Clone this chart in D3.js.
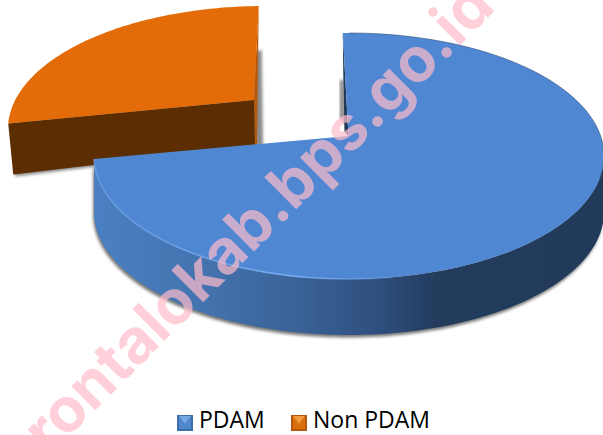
<!DOCTYPE html>
<html><head><meta charset="utf-8">
<script src="https://cdn.jsdelivr.net/npm/d3@7"></script>
<style>html,body{margin:0;padding:0;background:#fff;overflow:hidden}svg{display:block}</style>
</head><body><svg id="c" width="603" height="435"></svg>
<script>
const categories = ["PDAM", "Non PDAM"];
const values = [75, 25];
const topColors = ["#4f87d3", "#e36c09"];
const watermark = "gorontalokab.bps.go.id";

const W = 603, H = 435;
const svg = d3.select("#c");
const defs = svg.append("defs");
const rad = d => d * Math.PI / 180;

const pie = d3.pie().sort(null).startAngle(rad(-1.4)).endAngle(rad(358.6));
const slices = pie(values);

// pie geometry of each exploded slice (ellipse, apex of the wedge, wall depth)
const geom = [
  {cx: 349, cy: 156, rx: 255, ry: 123, apex: [348.5, 136], depth: 56, trim: 0},
  {cx: 265, cy: 129, rx: 257, ry: 123, apex: [254, 100], depth: 46, trim: rad(4)}
];
geom.forEach(g => {
  g.x = d3.scaleLinear().domain([-1, 1]).range([g.cx - g.rx, g.cx + g.rx]);
  g.y = d3.scaleLinear().domain([-1, 1]).range([g.cy + g.ry, g.cy - g.ry]);
});
const pt = (g, a, dy = 0) => [g.x(Math.sin(a)), g.y(Math.cos(a)) + dy];
const arcPts = (g, a0, a1, dy = 0) => d3.range(0, 121).map(i => pt(g, a0 + (a1 - a0) * i / 120, dy));
const line = d3.line();

// gradients & filters
const wallGrad = defs.append("linearGradient").attr("id", "wallBlue")
  .attr("gradientUnits", "userSpaceOnUse").attr("x1", 95).attr("x2", 604).attr("y1", 0).attr("y2", 0);
[[0, "#4a80c2"], [0.2, "#4474b0"], [0.4, "#3a6296"], [0.55, "#2f5080"], [0.67, "#233c5e"], [1, "#213a5a"]]
  .forEach(s => wallGrad.append("stop").attr("offset", s[0]).attr("stop-color", s[1]));

const rimGrad = defs.append("linearGradient").attr("id", "rim")
  .attr("gradientUnits", "userSpaceOnUse").attr("x1", 95).attr("x2", 420).attr("y1", 0).attr("y2", 0);
[[0, "#6b9fe4", 0.7], [0.6, "#78adf0", 1], [1, "#78adf0", 0]]
  .forEach(s => rimGrad.append("stop").attr("offset", s[0]).attr("stop-color", s[1]).attr("stop-opacity", s[2]));

const shadow = defs.append("filter").attr("id", "shadow")
  .attr("x", "-10%").attr("y", "-10%").attr("width", "120%").attr("height", "125%");
shadow.append("feGaussianBlur").attr("stdDeviation", 1.4);
const soft = defs.append("filter").attr("id", "soft")
  .attr("x", "-10%").attr("y", "-10%").attr("width", "120%").attr("height", "120%");
soft.append("feGaussianBlur").attr("stdDeviation", 0.6);

// Orange slice (drawn first)
{
  const s = slices[1], g = geom[1];
  const a0 = s.startAngle + g.trim;
  const left = pt(g, a0), top = pt(g, s.endAngle);
  const leftB = [left[0] + 5, left[1] + 51], apexB = [g.apex[0] + 1, g.apex[1] + g.depth];
  const gs = svg.append("g");
  gs.append("path").attr("d", line([[top[0] + 3, 50], [apexB[0] + 8, apexB[1]], [leftB[0] + 2, leftB[1] + 2], [left[0] + 2, left[1]]]) + "Z")
    .attr("fill", "#8a8a8a").attr("filter", "url(#shadow)");
  gs.append("path").attr("d", line([top, [apexB[0] + 2, apexB[1] - 2], apexB, g.apex]) + "Z").attr("fill", "#b55a0c");
  gs.append("path").attr("d", line([left, g.apex, apexB, leftB]) + "Z").attr("fill", "#5c2d00");
  gs.append("path").attr("d", line([g.apex, ...arcPts(g, a0, s.endAngle)]) + "Z").attr("fill", topColors[1]);
}

// Blue slice
{
  const s = slices[0], g = geom[0];
  const top = pt(g, s.startAngle), left = pt(g, s.endAngle);
  const gs = svg.append("g");
  const wallA0 = rad(88), wallA1 = s.endAngle;
  const outer = arcPts(g, wallA0, wallA1, g.depth);
  const upper = arcPts(g, wallA1, wallA0, 0);
  gs.append("path").attr("d", line(arcPts(g, wallA0, wallA1, g.depth + 2.5).concat(upper)) + "Z")
    .attr("fill", "#777").attr("filter", "url(#shadow)").attr("transform", "translate(-1,0)");
  gs.append("path").attr("d", line([[top[0] - 3, 80], [top[0] - 3, 118], [g.apex[0] - 3, 125], [top[0] + 1, 80]]) + "Z")
    .attr("fill", "#888").attr("filter", "url(#shadow)");
  gs.append("path").attr("d", line(outer.concat(upper)) + "Z").attr("fill", "url(#wallBlue)");
  gs.append("path").attr("d", line([top, g.apex, [g.apex[0] - 4, g.apex[1] - 4], [top[0] + 0.5, top[1] + 40]]) + "Z").attr("fill", "#213a5a");
  gs.append("path").attr("d", line([g.apex, ...arcPts(g, s.startAngle, s.endAngle)]) + "Z").attr("fill", topColors[0]);
  gs.append("path").attr("d", line(arcPts(g, rad(0), rad(100))))
    .attr("fill", "none").attr("stroke", "#2a4a72").attr("stroke-width", 0.7).attr("opacity", 0.8);
  gs.append("path").attr("d", line(arcPts(g, rad(170), s.endAngle)))
    .attr("fill", "none").attr("stroke", "url(#rim)").attr("stroke-width", 1.6);
}

// Legend
const legendX = [177, 291], textX = [199, 313];
const iconCols = [["#74a8e2", "#3d6ea8", "#4f87cc"], ["#f09a3e", "#b3590c", "#d9700f"]];
categories.forEach((c, i) => {
  const x = legendX[i], y = 415, s = 16;
  const ig = svg.append("g").attr("filter", "url(#soft)");
  ig.append("rect").attr("x", x).attr("y", y).attr("width", s).attr("height", s).attr("fill", iconCols[i][1]);
  ig.append("rect").attr("x", x + 2).attr("y", y + 1).attr("width", s - 4).attr("height", s - 3).attr("fill", iconCols[i][2]);
  ig.append("path").attr("d", line([[x + 2, y + 1], [x + s - 2, y + 1], [x + s / 2, y + s * 0.55]]) + "Z").attr("fill", iconCols[i][0]);
  svg.append("text").attr("x", textX[i]).attr("y", 428).text(c)
    .attr("font-family", "'Open Sans', sans-serif").attr("font-size", 23).attr("fill", "#000");
});

// Watermark: anchored on its first dot
const wm = svg.append("text").text(watermark)
  .attr("font-family", "Inter, sans-serif").attr("font-weight", 700).attr("font-size", 62)
  .attr("fill", "rgb(255,188,202)").attr("fill-opacity", 0.7);
const firstDot = watermark.indexOf(".");
const along = wm.node().getSubStringLength(0, firstDot) + wm.node().getSubStringLength(firstDot, 1) / 2;
const ang = rad(45), dotX = 282, dotY = 215, lift = 6;
const bx = dotX + lift * Math.SQRT1_2, by = dotY + lift * Math.SQRT1_2;
wm.attr("transform", `translate(${bx - along * Math.cos(ang)},${by + along * Math.sin(ang)}) rotate(-45)`);
</script></body></html>
